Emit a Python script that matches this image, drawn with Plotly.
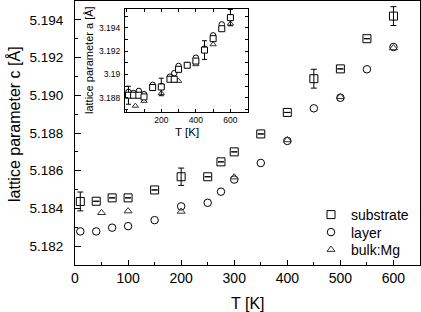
import numpy as np
import plotly.graph_objects as go

# ---- main panel: lattice parameter c ----
T_sub = [10, 40, 70, 100, 150, 200, 250, 275, 300, 350, 400, 450, 500, 550, 600]
c_sub = [5.18437, 5.18438, 5.18456, 5.18456, 5.18498, 5.18568, 5.18568, 5.18647,
         5.18700, 5.18795, 5.18909, 5.19088, 5.19140, 5.19300, 5.19420]
c_sub_err = [0.0005, None, None, None, None, 0.00046, None, None,
             None, None, None, 0.0005, None, None, 0.0005]

T_lay = [10, 40, 70, 100, 150, 200, 250, 275, 300, 350, 400, 450, 500, 550, 600]
c_lay = [5.18278, 5.18278, 5.18298, 5.18306, 5.18338, 5.18411, 5.18430, 5.18489,
         5.18553, 5.18641, 5.18758, 5.18931, 5.18987, 5.19138, 5.19256]

T_bulk = [50, 100, 200, 300, 400, 500, 600]
c_bulk = [5.18377, 5.18386, 5.18384, 5.18566, 5.18763, 5.18992, 5.19251]

# ---- inset: lattice parameter a ----
a_sub = [3.18821, 3.18821, 3.18821, 3.18807, 3.18887, 3.18892, 3.18958, 3.18958,
         3.19043, 3.19078, 3.19114, 3.19208, 3.19306, 3.19391, 3.19486]
a_sub_err = [0.00077, None, None, None, None, 0.00075, None, None,
             None, None, None, 0.0008, None, None, 0.0007]
a_lay = [3.1885, 3.1884, 3.18858, 3.1883, 3.1891, 3.1890, 3.1898, 3.1901,
         3.19072, 3.1908, 3.19143, 3.1922, 3.19334, 3.19428, 3.1949]
a_bulk = [3.18730, 3.18772, 3.18838, 3.18943, 3.19086, 3.19257, 3.19434]

inset_xticks = [200, 400, 600]

FONT = "Liberation Sans, Arial, sans-serif"
BLACK = "#000000"
GRAY = "#333333"

def nan(v):
    return [np.nan if x is None else x for x in v]

fig = go.Figure()

# main traces (each in its own legend box so the rows can be spaced like the reference)
fig.add_trace(go.Scatter(
    x=T_sub, y=c_sub, mode="markers", name="substrate", legend="legend",
    marker=dict(symbol="square-open", size=8, color=BLACK, line=dict(width=1, color=BLACK)),
    error_y=dict(type="data", array=nan(c_sub_err), visible=True, color=BLACK, thickness=1, width=3),
    xaxis="x", yaxis="y"))
fig.add_trace(go.Scatter(
    x=T_lay, y=c_lay, mode="markers", name="layer", legend="legend2",
    marker=dict(symbol="circle-open", size=7.5, color=BLACK, line=dict(width=1, color=BLACK)),
    xaxis="x", yaxis="y"))
fig.add_trace(go.Scatter(
    x=T_bulk, y=c_bulk, mode="markers", name="bulk:Mg", legend="legend3",
    marker=dict(symbol="triangle-up-open", size=7, color=GRAY, line=dict(width=1, color=GRAY)),
    xaxis="x", yaxis="y"))

# inset traces
fig.add_trace(go.Scatter(
    x=T_lay, y=a_lay, mode="markers", showlegend=False,
    marker=dict(symbol="circle-open", size=5.5, color=BLACK, line=dict(width=1, color=BLACK)),
    xaxis="x2", yaxis="y2"))
fig.add_trace(go.Scatter(
    x=T_bulk, y=a_bulk, mode="markers", showlegend=False,
    marker=dict(symbol="triangle-up-open", size=5.5, color=GRAY, line=dict(width=1, color=GRAY)),
    xaxis="x2", yaxis="y2"))
fig.add_trace(go.Scatter(
    x=T_sub, y=a_sub, mode="markers", showlegend=False,
    marker=dict(symbol="square", size=6, color="white", line=dict(width=1, color=BLACK)),
    error_y=dict(type="data", array=nan(a_sub_err), visible=True, color=BLACK, thickness=1, width=2.5),
    xaxis="x2", yaxis="y2"))

L, R, T, B = 75, 1, 1, 47
W, H = 421, 312
pw, ph = W - L - R, H - T - B

def px2paper(px, py):
    return (px - L) / pw, (H - B - py) / ph

ix0, iy0 = px2paper(125, 111.7)
ix1, iy1 = px2paper(247.7, 9)

axis_common = dict(showline=True, linecolor=BLACK, linewidth=1, showgrid=False,
                   zeroline=False, ticks="inside", tickcolor=BLACK)

def legend_at(py):
    return dict(x=px2paper(311, 0)[0], y=px2paper(0, py)[1], xanchor="left", yanchor="middle",
                bgcolor="rgba(0,0,0,0)", font=dict(size=14, family=FONT, color=BLACK),
                itemwidth=30)

fig.update_layout(
    width=W, height=H,
    margin=dict(l=L, r=R, t=T, b=B),
    paper_bgcolor="white", plot_bgcolor="white",
    font=dict(family=FONT, color=BLACK, size=14),
    showlegend=True,
    legend=legend_at(215),
    legend2=legend_at(232.5),
    legend3=legend_at(250),
    xaxis=dict(**axis_common, range=[0, 650], dtick=100, tick0=0, ticklen=5, mirror=True,
               tickfont=dict(size=14), minor=dict(dtick=50, ticklen=3, ticks="inside", tickcolor=BLACK)),
    yaxis=dict(**axis_common, range=[5.181, 5.195], dtick=0.002, tick0=5.182, ticklen=6, mirror=True,
               tickformat=".3f", tickfont=dict(size=13.5), ticklabelstandoff=8,
               minor=dict(dtick=0.001, ticklen=3, ticks="inside", tickcolor=BLACK)),
    xaxis2=dict(**axis_common, domain=[ix0, ix1], anchor="y2", range=[-10, 700],
                tickmode="array", tickvals=inset_xticks,
                ticklen=3, mirror="ticks", tickfont=dict(size=8.5),
                minor=dict(dtick=100, tick0=0, ticklen=3, ticks="inside", tickcolor=BLACK)),
    yaxis2=dict(**axis_common, domain=[iy0, iy1], anchor="x2", range=[3.1868, 3.1956], dtick=0.002,
                tick0=3.188, ticklen=3, mirror="ticks", tickfont=dict(size=8.5), ticklabelstandoff=2,
                minor=dict(dtick=0.001, ticklen=3, ticks="inside", tickcolor=BLACK)),
)

# axis titles as annotations
def ann(text, px, py, size, angle=0):
    x, y = px2paper(px, py)
    fig.add_annotation(text=text, x=x, y=y, xref="paper", yref="paper", showarrow=False,
                       xanchor="center", yanchor="middle", textangle=angle,
                       font=dict(size=size, family=FONT, color=BLACK))

ann("T [K]", 247.5, 303, 16)
ann("lattice parameter c [Å]", 14, 124, 16, -90)
ann("T [K]", 186.5, 131.7, 11.5)
ann("lattice parameter a [Å]", 89, 60, 11, -90)

fig.write_html("out.html", config={"displayModeBar": False},
               post_script="document.body.style.margin='0';document.body.style.padding='0';"
                           "document.body.style.overflow='hidden';")
